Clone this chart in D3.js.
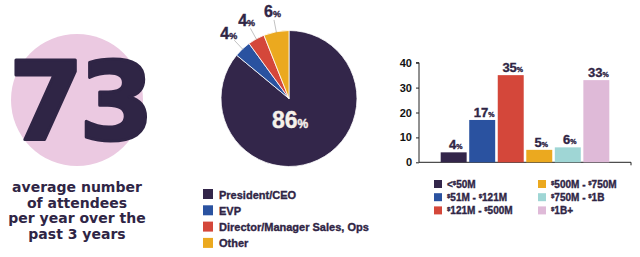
<!DOCTYPE html>
<html lang="en">
<head>
<meta charset="UTF-8">
<title>Attendees</title>
<style>
  body { margin: 0; background: #fff; }
  svg text { font-family: "Liberation Sans", Arial, sans-serif; font-weight: bold; fill: #2f2545; }
  .heavy { font-family: "DejaVu Sans", sans-serif; }
  .thick { stroke: #2f2545; stroke-width: 0.35; }
  .axis text { font-size: 11px; fill: #111; }
  .axis path, .axis line { stroke: #222; }
</style>
</head>
<body>
<svg width="640" height="257"></svg>
<script src="https://cdn.jsdelivr.net/npm/d3@7"></script>
<script>
const statValue = "73";
const statLines = ["average number", "of attendees", "per year over the", "past 3 years"];

const pieLabels = ["President/CEO", "EVP", "Director/Manager Sales, Ops", "Other"];
const pieValues = [86, 4, 4, 6];
const pieColors = ["#33264a", "#2a52a0", "#d4473a", "#eba91f"];

const barLabels = ["<$50M", "$51M - $121M", "$121M - $500M", "$500M - $750M", "$750M - $1B", "$1B+"];
const barValues = [4, 17, 35, 5, 6, 33];
const barColors = ["#33264a", "#2a52a0", "#d4473a", "#eba91f", "#9fd6d5", "#dfbad8"];
const yTicks = [0, 10, 20, 30, 40];

const svg = d3.select("svg");

// left panel: big number
svg.append("circle")
    .attr("cx", 77).attr("cy", 100).attr("r", 66)
    .attr("fill", "#ebc9e1");
svg.append("text")
    .attr("class", "heavy")
    .attr("x", 79).attr("y", 139)
    .attr("text-anchor", "middle")
    .attr("font-size", 108)
    .attr("letter-spacing", -5)
    .attr("stroke", "#2f2545")
    .attr("stroke-width", 3)
    .attr("stroke-linejoin", "round")
    .text(statValue);
svg.append("g").selectAll("text")
    .data(statLines)
    .enter().append("text")
    .attr("class", "heavy")
    .attr("x", 77)
    .attr("y", (d, i) => 192 + i * 15.7)
    .attr("text-anchor", "middle")
    .attr("font-size", 14)
    .text(d => d);

// pie
const pcx = 289, pcy = 98.5, pr = 68;
const pie = d3.pie().sort(null).value(d => d)(pieValues);
const arc = d3.arc().innerRadius(0).outerRadius(pr);
const pg = svg.append("g").attr("transform", `translate(${pcx},${pcy})`);
pg.selectAll("path")
    .data(pie)
    .enter().append("path")
    .attr("d", arc)
    .attr("fill", (d, i) => pieColors[i])
    .attr("stroke", "#fff")
    .attr("stroke-width", 0.8);

function pctLabel(sel, big, small) {
    sel.append("tspan").attr("font-size", big).text(d => d.data);
    sel.append("tspan").attr("font-size", small).text("%");
}

// big slice label
pg.append("text")
    .datum(pie[0])
    .attr("x", 1).attr("y", 29)
    .attr("text-anchor", "middle")
    .style("fill", "#f6f1ea")
    .attr("stroke", "#f6f1ea")
    .attr("stroke-width", 0.4)
    .call(pctLabel, 23, 12);

// small slice labels with leader lines
const small = pie.slice(1);
const mid = d => (d.startAngle + d.endAngle) / 2;
pg.selectAll(".leader")
    .data(small)
    .enter().append("line")
    .attr("class", "leader")
    .attr("x1", d => Math.sin(mid(d)) * (pr - 1))
    .attr("y1", d => -Math.cos(mid(d)) * (pr - 1))
    .attr("x2", d => Math.sin(mid(d)) * (pr + 12))
    .attr("y2", d => -Math.cos(mid(d)) * (pr + 12))
    .attr("stroke", "#999")
    .attr("stroke-width", 0.6);
pg.selectAll(".slab")
    .data(small)
    .enter().append("text")
    .attr("class", "slab thick")
    .attr("x", d => Math.sin(mid(d)) * (pr + 20))
    .attr("y", d => -Math.cos(mid(d)) * (pr + 20) + 5)
    .attr("text-anchor", "middle")
    .call(pctLabel, 16, 9);

// pie legend
const pl = svg.append("g").attr("transform", "translate(203,189)");
const plRow = pl.selectAll("g")
    .data(pieLabels)
    .enter().append("g")
    .attr("transform", (d, i) => `translate(0,${i * 16.3})`);
plRow.append("rect")
    .attr("width", 10).attr("height", 10)
    .attr("fill", (d, i) => pieColors[i]);
plRow.append("text")
    .attr("class", "thick")
    .attr("x", 16).attr("y", 9.5)
    .attr("font-size", 11)
    .text(d => d);

// bar chart
const x = d3.scaleBand()
    .domain(barLabels)
    .range([419, 631])
    .paddingInner(0.09)
    .paddingOuter(0.76);
const y = d3.scaleLinear()
    .domain([0, 40])
    .range([162.3, 62.7]);

svg.append("g")
    .attr("class", "axis")
    .attr("transform", "translate(419,0)")
    .call(d3.axisLeft(y).tickValues(yTicks).tickSize(3).tickSizeOuter(0).tickPadding(4))
    .call(g => g.select(".domain").attr("d", `M-3,${y(40)}H0V${y(0)}`));

svg.append("g")
    .attr("class", "axis")
    .attr("transform", `translate(0,${y(0)})`)
    .call(d3.axisBottom(x).tickValues([]).tickSizeOuter(3))
    .call(g => g.select(".domain").attr("d", "M419,0H631V3"));

svg.append("g").selectAll("rect")
    .data(barValues)
    .enter().append("rect")
    .attr("x", (d, i) => x(barLabels[i]))
    .attr("y", d => y(d))
    .attr("width", x.bandwidth())
    .attr("height", d => y(0) - y(d))
    .attr("fill", (d, i) => barColors[i]);

svg.append("g").selectAll("text")
    .data(barValues.map(v => ({ data: v })))
    .enter().append("text")
    .attr("class", "thick")
    .attr("x", (d, i) => x(barLabels[i]) + x.bandwidth() / 2 + 2)
    .attr("y", d => y(d.data) - 3)
    .attr("text-anchor", "middle")
    .call(pctLabel, 13, 7);

// bar legend: superscript $ signs
function moneyText(sel) {
    sel.each(function(d) {
        const t = d3.select(this);
        d.split("$").forEach((part, k) => {
            if (k > 0) t.append("tspan").attr("font-size", 6).attr("dy", -3).text("$");
            if (part) t.append("tspan").attr("font-size", 10).attr("dy", k > 0 ? 3 : 0).text(part);
        });
    });
}
const bl = svg.append("g").attr("transform", "translate(434,180)");
const blRow = bl.selectAll("g")
    .data(barLabels)
    .enter().append("g")
    .attr("transform", (d, i) => `translate(${Math.floor(i / 3) * 104},${(i % 3) * 13.2})`);
blRow.append("rect")
    .attr("width", 8).attr("height", 8)
    .attr("fill", (d, i) => barColors[i]);
blRow.append("text")
    .attr("class", "thick")
    .attr("x", 13).attr("y", 8)
    .call(moneyText);
</script>
</body>
</html>
